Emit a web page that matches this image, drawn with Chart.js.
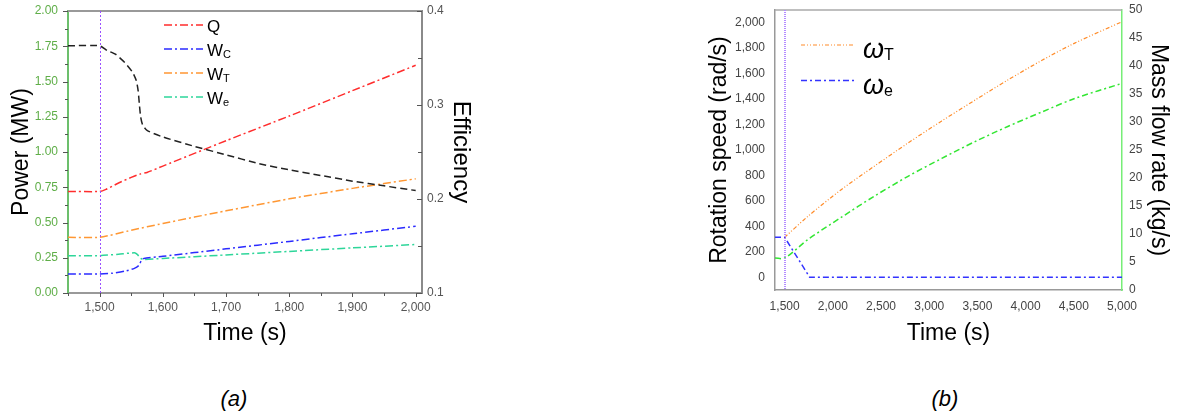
<!DOCTYPE html>
<html><head><meta charset="utf-8">
<script src="https://cdn.jsdelivr.net/npm/chart.js@4.4.0/dist/chart.umd.min.js"></script>
<style>
html,body{margin:0;padding:0;background:#fff;width:1178px;height:416px;overflow:hidden;font-family:"Liberation Sans",Arial,sans-serif}
#ca{position:absolute;left:0;top:0}
#cb{position:absolute;left:680px;top:0}
.cap{position:absolute;top:386px;font-style:italic;font-size:22px;color:#000;width:60px;text-align:center}
</style></head><body>
<canvas id="ca" width="500" height="360"></canvas>
<canvas id="cb" width="498" height="360"></canvas>
<div class="cap" style="left:204px">(a)</div>
<div class="cap" style="left:915px">(b)</div>
<script>
// ---------- Chart (a) data ----------
const timeQ   = [1450,1500,1510,1530,1550,1565,1575,1600,1700,1800,1900,2000];
const powerQ  = [0.72,0.72,0.735,0.78,0.82,0.845,0.855,0.90,1.08,1.255,1.435,1.615];
const timeWC  = [1450,1500,1520,1540,1555,1562,1566,1570,1600,1700,1800,1900,2000];
const powerWC = [0.135,0.135,0.14,0.155,0.175,0.195,0.23,0.245,0.26,0.313,0.366,0.42,0.473];
const timeWT  = [1450,1500,1550,1600,1700,1800,1900,2000];
const powerWT = [0.395,0.395,0.445,0.493,0.583,0.668,0.742,0.81];
const timeWe  = [1450,1500,1530,1555,1560,1565,1570,1600,1700,1800,1900,2000];
const powerWe = [0.265,0.265,0.275,0.285,0.272,0.245,0.238,0.245,0.27,0.295,0.32,0.344];
const timeEff = [1450,1500,1512,1525,1540,1552,1558,1561,1563,1565,1568,1575,1600,1650,1700,1750,1800,1850,1900,1950,2000];
const efficiency = [0.363,0.363,0.358,0.354,0.345,0.335,0.326,0.315,0.300,0.287,0.279,0.273,0.266,0.256,0.247,0.238,0.231,0.225,0.219,0.214,0.209];
const legendMainA = ['Q','W','W','W'];
const legendSubA  = ['','C','T','e'];
const xTicksA = [1500,1600,1700,1800,1900,2000];
const xTickLabelsA = ['1,500','1,600','1,700','1,800','1,900','2,000'];
const xMinorA = [1450,1550,1650,1750,1850,1950];
const yTicksA = [0,0.25,0.5,0.75,1,1.25,1.5,1.75,2];
const yTickLabelsA = ['0.00','0.25','0.50','0.75','1.00','1.25','1.50','1.75','2.00'];
const yMinorA = [0.125,0.375,0.625,0.875,1.125,1.375,1.625,1.875];
const y1TicksA = [0.1,0.2,0.3,0.4];
const y1TickLabelsA = ['0.1','0.2','0.3','0.4'];
const y1MinorA = [0.15,0.25,0.35];
const markTime = [1500];

// ---------- Chart (b) data ----------
const timeWT_b = [1500,1740,2090,2435,2780,3130,3475,3815,4170,4510,5000];
const omegaT   = [314,478,690,875,1055,1228,1392,1550,1705,1840,2008];
const timeWe_b = [1400,1500,1760,5000];
const omegaE   = [314,314,0,0];
const timeM    = [1400,1500,1740,2090,2435,2780,3130,3475,3815,4170,4510,5000];
const massFlow = [5.7,5.7,9.0,13.0,16.8,20.3,23.5,26.5,29.2,31.8,34.2,36.9];
const legendMainB = ['ω','ω'];
const legendSubB  = ['T','e'];
const xTicksB = [1500,2000,2500,3000,3500,4000,4500,5000];
const xTickLabelsB = ['1,500','2,000','2,500','3,000','3,500','4,000','4,500','5,000'];
const yTicksB = [0,200,400,600,800,1000,1200,1400,1600,1800,2000];
const yTickLabelsB = ['0','200','400','600','800','1,000','1,200','1,400','1,600','1,800','2,000'];
const y1TicksB = [0,5,10,15,20,25,30,35,40,45,50];
const y1TickLabelsB = ['0','5','10','15','20','25','30','35','40','45','50'];

const pts = (xs, ys) => xs.map((x, i) => ({x, y: ys[i]}));
const setTicks = vals => s => { s.ticks = vals.map(v => ({value: v})); };
const fitV = w => s => { s.width = w; s.paddingTop = 0; s.paddingBottom = 0; };
const fitH = h => s => { s.height = h; s.paddingLeft = 0; s.paddingRight = 0; };
const FONT = '"Liberation Sans", Arial, sans-serif';
const TITLE = {family: FONT, size: 23};

// ---------- plugins ----------
const framePlugin = {
  id: 'frame',
  afterDatasetsDraw(chart, args, o) {
    const {ctx, chartArea: ca} = chart;
    ctx.save();
    ctx.strokeStyle = o.topColor; ctx.lineWidth = o.topWidth;
    ctx.beginPath(); ctx.moveTo(ca.left, ca.top); ctx.lineTo(ca.right, ca.top); ctx.stroke();
    const xs = chart.scales.x;
    markTime.forEach(t => {
      const px = Math.round(xs.getPixelForValue(t)) + (o.markWidth % 2 ? 0.5 : 0);
      ctx.strokeStyle = o.markColor; ctx.lineWidth = o.markWidth; ctx.setLineDash(o.markDash);
      ctx.beginPath(); ctx.moveTo(px, ca.top); ctx.lineTo(px, ca.bottom); ctx.stroke();
    });
    ctx.setLineDash([]);
    (o.ticks || []).forEach(a => {
      const s = chart.scales[a.id];
      ctx.strokeStyle = a.color; ctx.lineWidth = 1;
      const draw = (v, len) => {
        const p = Math.round(s.getPixelForValue(v)) + 0.5;
        ctx.beginPath();
        if (a.side === 'left') { ctx.moveTo(ca.left, p); ctx.lineTo(ca.left - len, p); }
        else if (a.side === 'rightIn') { ctx.moveTo(ca.right, p); ctx.lineTo(ca.right - len, p); }
        else if (a.side === 'bottom') { ctx.moveTo(p, ca.bottom); ctx.lineTo(p, ca.bottom + len); }
        ctx.stroke();
      };
      a.major.forEach(v => draw(v, a.len));
      a.minor.forEach(v => draw(v, a.minLen));
    });
    const L = o.legend;
    L.items.forEach((it, i) => {
      const ds = chart.data.datasets[it.ds];
      const y = L.y0 + i * L.dy;
      ctx.strokeStyle = ds.borderColor; ctx.lineWidth = ds.borderWidth;
      ctx.setLineDash(ds.borderDash || []);
      ctx.beginPath(); ctx.moveTo(L.x0, y); ctx.lineTo(L.x1, y); ctx.stroke();
      ctx.setLineDash([]);
      ctx.fillStyle = '#000'; ctx.textBaseline = 'alphabetic'; ctx.textAlign = 'left';
      ctx.font = L.font;
      ctx.fillText(it.main, L.tx, y + L.base);
      const w = ctx.measureText(it.main).width;
      if (it.sub) { ctx.font = L.subFont; ctx.fillText(it.sub, L.tx + w + L.subGap, y + L.base + L.subDrop); }
    });
    ctx.restore();
  }
};

// ---------- Chart (a) ----------
const dsA = [
  {label:'Efficiency', yAxisID:'y1', data: pts(timeEff, efficiency), borderColor:'#222222', borderDash:[7,4], borderWidth:1.5},
  {label:'Q',  yAxisID:'y', data: pts(timeQ, powerQ),  borderColor:'#ff2d2d', borderDash:[8,3,2,3], borderWidth:1.5},
  {label:'WC', yAxisID:'y', data: pts(timeWC, powerWC), borderColor:'#2b2bff', borderDash:[8,3,2,3], borderWidth:1.5},
  {label:'WT', yAxisID:'y', data: pts(timeWT, powerWT), borderColor:'#ff9733', borderDash:[8,3,2,3], borderWidth:1.5},
  {label:'We', yAxisID:'y', data: pts(timeWe, powerWe), borderColor:'#2ed69a', borderDash:[8,3,2,3], borderWidth:1.5}
];
new Chart(document.getElementById('ca'), {
  type: 'line',
  data: {datasets: dsA},
  options: {
    responsive:false, animation:false, devicePixelRatio:1,
    layout:{padding:{top:11,left:0,right:0,bottom:0}},
    elements:{point:{radius:0}, line:{tension:0.2, fill:false}},
    plugins:{
      legend:{display:false}, tooltip:{enabled:false},
      frame:{
        topColor:'#999999', topWidth:2, markColor:'#9a50ff', markWidth:1, markDash:[2,2],
        ticks:[
          {id:'y', side:'left', major:yTicksA, minor:yMinorA, len:5, minLen:3, color:'#555'},
          {id:'x', side:'bottom', major:xTicksA, minor:xMinorA, len:4, minLen:3, color:'#555'},
          {id:'y1', side:'rightIn', major:y1TicksA, minor:y1MinorA, len:5, minLen:4, color:'#555'}
        ],
        legend:{x0:164, x1:203, y0:25, dy:24, tx:207, base:6.5, font:'17px '+FONT, subFont:'11px '+FONT, subGap:0, subDrop:2.5,
          items: legendMainA.map((m, i) => ({main:m, sub:legendSubA[i], ds:i+1}))}
      }
    },
    scales:{
      x:{type:'linear', min:1450, max:2010, afterBuildTicks:setTicks(xTicksA), afterFit:fitH(67),
        grid:{display:true, drawOnChartArea:false, drawTicks:false},
        border:{display:true, color:'#999999', width:2},
        ticks:{autoSkip:false, maxRotation:0, padding:7, color:'#555', font:{family:FONT, size:12},
          callback:(v,i)=>xTickLabelsA[i]},
        title:{display:true, text:'Time (s)', color:'#000', font:TITLE, padding:{top:0,bottom:13}}},
      y:{type:'linear', position:'left', min:0, max:2, afterBuildTicks:setTicks(yTicksA), afterFit:fitV(68),
        grid:{display:true, drawOnChartArea:false, drawTicks:false},
        border:{display:true, color:'#6cbf6c', width:2},
        ticks:{autoSkip:false, padding:10, color:'#5fae48', font:{family:FONT, size:12},
          callback:(v,i)=>yTickLabelsA[i]},
        title:{display:true, text:'Power (MW)', color:'#000', font:TITLE, padding:{top:8,bottom:0}}},
      y1:{type:'linear', position:'right', min:0.1, max:0.4, afterBuildTicks:setTicks(y1TicksA), afterFit:fitV(78),
        grid:{display:true, drawOnChartArea:false, drawTicks:false},
        border:{display:true, color:'#8a8a8a', width:2},
        ticks:{autoSkip:false, padding:5, color:'#555', font:{family:FONT, size:12},
          callback:(v,i)=>y1TickLabelsA[i]},
        title:{display:true, text:'Efficiency', color:'#000', font:{family:FONT, size:24}, padding:{top:25,bottom:0}}}
    }
  },
  plugins:[framePlugin]
});

// ---------- Chart (b) ----------
const dsB = [
  {label:'omegaT', yAxisID:'y', data: pts(timeWT_b, omegaT), borderColor:'#ff8c2a', borderDash:[4,2,1,2,1,2], borderWidth:1.2, tension:0.3},
  {label:'omegaE', yAxisID:'y', data: pts(timeWe_b, omegaE), borderColor:'#3333ff', borderDash:[6,3,2,3], borderWidth:1.5, tension:0},
  {label:'mass', yAxisID:'y1', data: pts(timeM, massFlow), borderColor:'#33e633', borderDash:[6,3,2,3], borderWidth:1.5, tension:0.3}
];
new Chart(document.getElementById('cb'), {
  type: 'line',
  data: {datasets: dsB},
  options: {
    responsive:false, animation:false, devicePixelRatio:1,
    layout:{padding:{top:10,left:0,right:0,bottom:0}},
    elements:{point:{radius:0}, line:{fill:false}},
    plugins:{
      legend:{display:false}, tooltip:{enabled:false},
      frame:{
        topColor:'#aaaaaa', topWidth:1.5, markColor:'#b48cff', markWidth:2, markDash:[1,1],
        ticks:[],
        legend:{x0:121, x1:175, y0:45, dy:35.5, tx:183, base:13, font:'italic 27px '+FONT, subFont:'16px '+FONT, subGap:0, subDrop:2,
          items: legendMainB.map((m, i) => ({main:m, sub:legendSubB[i], ds:i}))}
      }
    },
    scales:{
      x:{type:'linear', min:1400, max:5000, afterBuildTicks:setTicks(xTicksB), afterFit:fitH(70),
        grid:{display:true, drawOnChartArea:false, drawTicks:false},
        border:{display:true, color:'#999999', width:1.5},
        ticks:{autoSkip:false, maxRotation:0, padding:9, color:'#444', font:{family:FONT, size:12},
          callback:(v,i)=>xTickLabelsB[i]},
        title:{display:true, text:'Time (s)', color:'#000', font:TITLE, padding:{top:0,bottom:13}}},
      y:{type:'linear', position:'left', min:-100, max:2100, afterBuildTicks:setTicks(yTicksB), afterFit:fitV(95),
        grid:{display:true, drawOnChartArea:false, drawTicks:false},
        border:{display:true, color:'#999999', width:1.5},
        ticks:{autoSkip:false, padding:10, color:'#444', font:{family:FONT, size:12},
          callback:(v,i)=>yTickLabelsB[i]},
        title:{display:true, text:'Rotation speed (rad/s)', color:'#000', font:TITLE, padding:{top:26,bottom:0}}},
      y1:{type:'linear', position:'right', min:0, max:50, afterBuildTicks:setTicks(y1TicksB), afterFit:fitV(56),
        grid:{display:true, drawOnChartArea:false, drawTicks:false},
        border:{display:true, color:'#77ee77', width:1.5},
        ticks:{autoSkip:false, padding:7, color:'#444', font:{family:FONT, size:12},
          callback:(v,i)=>y1TickLabelsB[i]},
        title:{display:true, text:'Mass flow rate (kg/s)', color:'#000', font:TITLE, padding:{top:6,bottom:0}}}
    }
  },
  plugins:[framePlugin]
});
</script>
</body></html>
